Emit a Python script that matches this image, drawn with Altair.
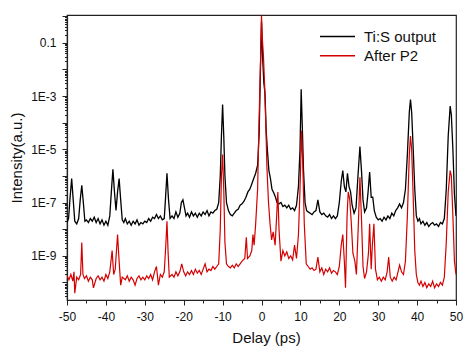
import altair as alt
import pandas as pd

# Delay (ps) and log10(intensity)
black_x = [-50, -49.6, -49.2, -48.8, -48.4, -48.0, -47.5, -47.0, -46.6, -46.2, -45.8, -45.4, -45.0,
           -44.5, -44.0, -43.5, -43.0, -42.5, -42.0, -41.5, -41.0, -40.5, -40.0, -39.5, -39.0,
           -38.6, -38.2, -37.8, -37.4, -37.0, -36.6, -36.2, -35.8, -35.4, -35.0, -34.5, -34.0,
           -33.5, -33.0, -32.5, -32.0, -31.5, -31.0, -30.5, -30.0, -29.5, -29.0, -28.5, -28.0,
           -27.5, -27.0, -26.5, -26.0, -25.5, -25.0, -24.7, -24.3, -23.9, -23.5, -23.0, -22.5,
           -22.0, -21.5, -21.0, -20.6, -20.2, -19.8, -19.4, -19.0, -18.5, -18.0, -17.5, -17.0,
           -16.5, -16.0, -15.5, -15.0, -14.5, -14.0, -13.5, -13.0, -12.5, -12.0, -11.5, -11.0,
           -10.6, -10.3, -10.0, -9.7, -9.4, -9.0, -8.5, -8.0, -7.5, -7.0, -6.5, -6.0, -5.5, -5.0,
           -4.5, -4.0, -3.5, -3.0, -2.5, -2.0, -1.5, -1.0, -0.6, -0.3, 0.0, 0.3, 0.6, 0.9, 1.2,
           1.5, 1.9, 2.3, 2.7, 3.2, 3.6, 4.0, 4.5, 5.0, 5.5, 6.0, 6.5, 7.0, 7.5, 8.0, 8.5, 9.0,
           9.5, 9.9, 10.2, 10.5, 10.8, 11.2, 11.6, 12.0, 12.5, 13.0, 13.5, 14.0, 14.5, 15.0, 15.5,
           16.0, 16.5, 17.0, 17.5, 18.0, 18.5, 19.0, 19.5, 20.0, 20.5, 20.9, 21.3, 21.7, 22.1,
           22.5, 22.9, 23.3, 23.8, 24.3, 24.8, 25.3, 25.7, 26.1, 26.5, 27.0, 27.4, 27.8, 28.2,
           28.6, 29.0, 29.5, 30.0, 30.5, 31.0, 31.5, 32.0, 32.5, 33.0, 33.5, 34.0, 34.5, 35.0,
           35.5, 36.0, 36.5, 37.0, 37.5, 38.0, 38.3, 38.6, 39.0, 39.4, 39.8, 40.2, 40.6, 41.0,
           41.5, 42.0, 42.5, 43.0, 43.5, 44.0, 44.5, 45.0, 45.5, 46.0, 46.5, 47.0, 47.5, 48.0,
           48.5, 48.8, 49.2, 49.6, 50.0]
black_exp = [-7.75, -7.6, -6.8, -6.1, -6.9, -7.7, -7.8, -7.6, -6.9, -6.35, -7.0, -7.7, -7.65,
             -7.75, -7.6, -7.7, -7.55, -7.75, -7.6, -7.8, -7.65, -7.85, -7.7, -7.85, -7.5,
             -6.6, -5.75, -6.6, -7.3, -6.6, -6.1, -6.9, -7.65, -7.75, -7.6, -7.8, -7.7,
             -7.85, -7.7, -7.8, -7.65, -7.85, -7.75, -7.8, -7.7, -7.75, -7.6, -7.7, -7.55,
             -7.6, -7.45, -7.6, -7.5, -7.65, -7.6, -6.9, -5.9, -6.9, -7.6, -7.5, -7.6,
             -7.35, -7.55, -7.4, -7.0, -6.9, -7.2, -7.5, -7.4, -7.55, -7.35, -7.5, -7.4,
             -7.55, -7.4, -7.5, -7.35, -7.45, -7.3, -7.5, -7.35, -7.4, -7.3, -7.25, -7.0,
             -6.0, -4.5, -3.32, -4.5, -6.0, -7.0, -7.3, -7.45, -7.5, -7.4, -7.3, -7.25, -7.1, -7.05,
             -6.95, -6.8, -6.6, -6.5, -6.3, -6.1, -5.9, -5.6, -4.4, -2.2, -0.2, -1.6, -2.5, -2.9, -4.3,
             -5.0, -5.8, -6.1, -6.5, -6.65, -6.8, -7.0, -7.05, -7.0, -7.15, -7.1, -7.2, -7.1, -7.25, -7.2, -7.3, -7.1,
             -6.4, -5.0, -2.75, -4.2, -5.8, -7.0, -7.3, -7.35, -7.4, -7.45, -7.35, -7.3, -6.9, -7.35, -7.45,
             -7.4, -7.5, -7.55, -7.45, -7.6, -7.5, -7.6, -7.5, -7.0, -6.2, -5.8, -6.4, -6.6, -5.9,
             -6.4, -6.6, -7.1, -7.4, -7.2, -6.0, -4.9, -5.8, -6.9, -7.35, -7.2, -6.6, -5.85, -6.8,
             -6.8, -7.3, -7.55, -7.65, -7.6, -7.7, -7.55, -7.65, -7.5, -7.6, -7.4, -7.5, -7.3, -7.2,
             -7.05, -7.2, -7.0, -6.5, -5.2, -3.6, -3.13, -3.6, -5.0, -6.5, -7.5, -7.7, -7.6, -7.8,
             -7.7, -7.85, -7.75, -7.9, -7.8, -7.75, -7.85, -7.8, -7.9, -7.75, -7.8, -7.6, -6.5, -4.5,
             -3.38, -3.7, -5.0, -6.7, -7.5]

red_x = [-50, -49.5, -49.0, -48.5, -48.2, -48.0, -47.5, -47.0, -46.5, -46.2, -45.9, -45.5, -45.0,
         -44.5, -44.0, -43.5, -43.2, -42.5, -42.0, -41.5, -41.0, -40.5, -40.0, -39.5, -39.0,
         -38.4, -38.0, -37.6, -37.0, -36.6, -36.2, -35.8, -35.0, -34.5, -34.0, -33.5, -33.0,
         -32.5, -32.0, -31.5, -31.0, -30.5, -30.0, -29.5, -29.0, -28.5, -28.0, -27.5, -27.0,
         -26.5, -26.0, -25.5, -25.0, -24.6, -24.3, -24.0, -23.7, -23.0, -22.5, -22.0, -21.5,
         -21.0, -20.5, -20.0, -19.5, -19.0, -18.5, -18.0, -17.5, -17.0, -16.5, -16.0, -15.5,
         -15.0, -14.5, -14.0, -13.5, -13.0, -12.5, -12.0, -11.5, -11.0, -10.6, -10.3, -10.0,
         -9.7, -9.4, -9.0, -8.5, -8.0, -7.5, -7.0, -6.5, -6.0, -5.5, -5.0, -4.3, -3.9, -3.6,
         -3.0, -2.5, -2.2, -1.9, -1.5, -1.0, -0.7, -0.3, 0.0, 0.2, 0.5, 0.8, 1.1, 1.4, 1.8,
         2.2, 2.6, 3.0, 3.5, 3.9, 4.2, 4.5, 5.0, 5.5, 6.0, 6.5, 7.0, 7.5, 8.0, 8.5, 9.0, 9.5,
         9.9, 10.3, 10.6, 11.0, 11.5, 12.0, 12.5, 13.0, 13.5, 14.0, 14.5, 15.0, 15.5, 16.0,
         16.5, 17.0, 17.5, 18.0, 18.5, 19.0, 19.5, 20.0, 20.5, 20.9, 21.3, 21.6, 22.0, 22.3,
         22.7, 23.1, 23.5, 24.0, 24.4, 24.9, 25.3, 25.7, 26.1, 26.5, 27.0, 27.5, 27.8, 28.2,
         28.5, 28.9, 29.3, 29.8, 30.3, 30.8, 31.3, 31.8, 32.3, 32.7, 33.1, 33.6, 34.1, 34.6,
         35.1, 35.5, 36.0, 36.5, 37.0, 37.5, 38.0, 38.3, 38.6, 39.0, 39.4, 39.8, 40.2, 40.6,
         41.0, 41.5, 42.0, 42.5, 43.0, 43.5, 44.0, 44.5, 45.0, 45.5, 46.0, 46.5, 47.0, 47.5,
         48.0, 48.5, 48.8, 49.2, 49.6, 50.0]
red_exp = [-9.75, -9.9, -9.7, -9.95, -9.6, -10.4, -9.8, -9.9, -9.7, -8.5, -9.7, -9.85, -9.75,
           -9.95, -9.8, -9.9, -10.2, -9.85, -9.75, -9.9, -9.8, -9.95, -9.7, -9.85, -9.6,
           -8.8, -9.7, -9.5, -8.2, -9.2, -10.1, -9.8, -9.9, -9.75, -9.95, -9.8, -9.9,
           -10.1, -9.85, -9.75, -9.9, -9.8, -9.9, -9.75, -9.85, -9.7, -9.9, -9.6, -9.4,
           -10.1, -9.7, -9.8, -9.6, -8.6, -7.7, -8.9, -9.8, -9.7, -9.8, -9.6, -9.75,
           -9.6, -9.3, -9.6, -9.75, -9.6, -9.7, -9.55, -9.7, -9.5, -9.65, -9.55, -9.7,
           -9.5, -9.3, -9.6, -9.5, -9.55, -9.4, -9.5, -9.4, -9.3, -8.0, -6.0, -5.2,
           -6.5, -8.5, -9.3, -9.4, -9.45, -9.35, -9.45, -9.3, -9.4, -9.3, -9.2, -9.1, -8.3, -9.1,
           -9.0, -8.8, -8.2, -8.6, -7.8, -6.5, -4.4, -2.0, 0.02, -0.8, -1.5, -2.6, -4.0, -5.7, -7.0,
           -7.8, -8.4, -8.1, -8.6, -7.5, -6.6, -8.0, -9.2, -8.8, -9.0, -8.85, -9.1, -9.0, -9.15, -8.6, -9.1, -8.2,
           -6.5, -4.3, -5.5, -7.8, -9.3, -9.4, -9.5, -9.45, -9.55, -9.5, -9.05, -9.6, -9.45, -9.7,
           -9.5, -9.6, -9.45, -9.65, -9.55, -9.6, -9.7, -9.4, -8.6, -8.2, -9.2, -10.2, -7.5, -6.6,
           -6.9, -7.8, -8.9, -9.2, -9.7, -7.8, -6.05, -7.6, -9.4, -9.85, -9.6, -8.9, -7.8, -9.5,
           -8.6, -7.8, -9.5, -9.9, -9.8, -9.95, -9.8, -9.9, -9.6, -9.05, -9.8, -9.95, -9.8, -9.9,
           -9.6, -9.35, -9.6, -9.7, -9.2, -7.5, -5.2, -4.5, -5.0, -6.8, -8.8, -9.7, -10.0, -10.1,
           -9.95, -10.15, -10.0, -10.2, -10.05, -10.15, -9.95, -10.2, -10.05, -10.15, -10.0, -10.1, -9.8, -8.5,
           -6.6, -5.8, -6.0, -7.5, -9.2, -9.7]

series_names = ["Ti:S output", "After P2"]
series_colors = ["#000000", "#d40000"]

rows = []
for x, e in zip(black_x, black_exp):
    rows.append({"delay": x, "intensity": 10 ** e, "series": series_names[0]})
for x, e in zip(red_x, red_exp):
    rows.append({"delay": x, "intensity": 10 ** e, "series": series_names[1]})
df = pd.DataFrame(rows)

FONT = "Liberation Sans"

y_ticks = []
for k in range(-11, 1):
    for m in range(1, 10):
        v = m * 10.0 ** k
        if 2.2e-11 <= v <= 1.1:
            y_ticks.append(v)

is_decade = "abs(log(datum.value)/LN10 - round(log(datum.value)/LN10)) < 0.01"
y_label = ("(" + is_decade + ") && (round(-log(datum.value)/LN10) % 2 == 1) ? "
           "(round(-log(datum.value)/LN10) == 1 ? '0.1' : '1E-' + round(-log(datum.value)/LN10)) : ''")

x_enc = alt.X("delay:Q",
              scale=alt.Scale(domain=[-50, 50], nice=False, zero=False),
              axis=alt.Axis(title="Delay (ps)", values=list(range(-50, 51, 5)),
                            labelExpr="datum.value % 10 == 0 ? '' + datum.value : ''",
                            tickSize={"condition": {"test": "datum.value % 10 == 0", "value": 5}, "value": 3},
                            labelOverlap=False, labelFlush=False, labelPadding=6,
                            titleY=37, titleBaseline="middle", titleX=199))
y_enc = alt.Y("intensity:Q",
              scale=alt.Scale(type="log", domain=[2.2e-11, 1.1], nice=False),
              axis=alt.Axis(title="Intensity(a.u.)", values=y_ticks, labelExpr=y_label,
                            tickSize={"condition": {"test": is_decade, "value": 5}, "value": 2.5},
                            labelOverlap=False, labelFlush=False, labelPadding=6,
                            titleX=-51, titleBaseline="middle"))
color_enc = alt.Color("series:N",
                      scale=alt.Scale(domain=series_names, range=series_colors),
                      legend=alt.Legend(title=None, orient="none", legendX=263, legendY=14,
                                        symbolType="M-3.5,0H3.5", symbolSize=100, symbolStrokeWidth=1.5,
                                        labelFontSize=15, labelFont=FONT, labelOffset=19,
                                        rowPadding=3.3, padding=0, labelColor="#111"))

base = alt.Chart(df)
black = base.transform_filter(alt.datum.series == series_names[0]).mark_line(
    strokeWidth=1.3, clip=True).encode(x=x_enc, y=y_enc, color=color_enc)
red = base.transform_filter(alt.datum.series == series_names[1]).mark_line(
    strokeWidth=1.2, clip=True).encode(x=x_enc, y=y_enc, color=color_enc)

chart = alt.layer(black, red).properties(
    width=389, height=285,
    autosize=alt.AutoSizeParams(type="none"),
    padding={"left": 67, "top": 15, "right": 13, "bottom": 57},
    background="white",
).configure_view(stroke="#222", strokeWidth=1.2).configure_axis(
    grid=False, domainColor="#222", tickColor="#222", labelColor="#111", titleColor="#111",
    labelFont=FONT, titleFont=FONT, labelFontSize=12, titleFontSize=15, titleFontWeight="normal",
    domainWidth=1.2, tickWidth=1,
)

chart.save("out.html", embed_options={"renderer": "svg", "actions": False})
